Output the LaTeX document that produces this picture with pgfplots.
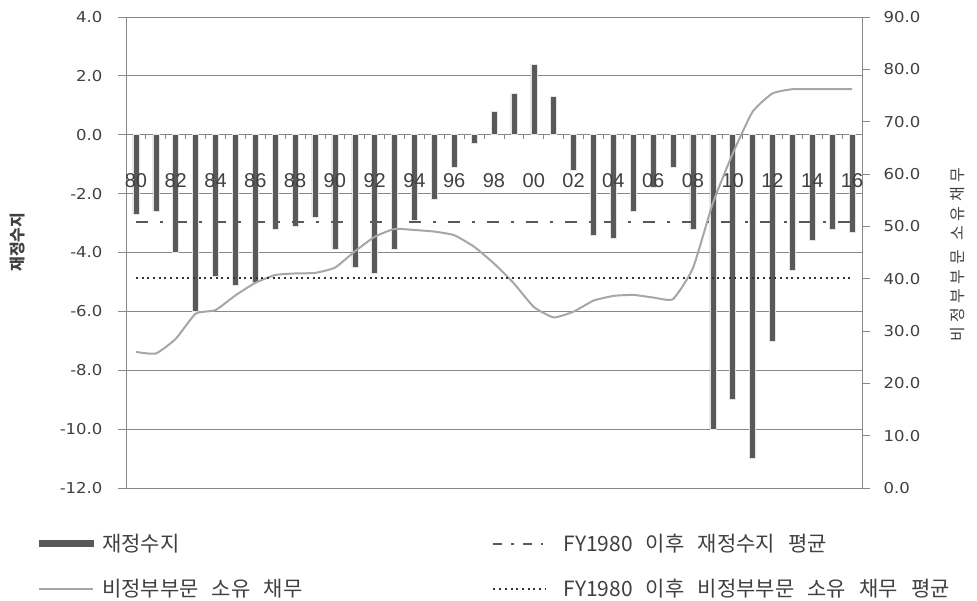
\documentclass[border=0pt]{standalone}
\usepackage{pgfplots}
\pgfplotsset{compat=1.18}
\usepackage{pgfplotstable}
\usepackage{fontspec}
\setmainfont{DejaVu Sans}
\newfontfamily\numfont{DejaVu Sans}[FakeStretch=1.1]
\newfontfamily\xfont{Liberation Sans}
\newfontfamily\kr{Noto Sans CJK KR}[WordSpace=2.8]
\definecolor{barc}{HTML}{595959}
\definecolor{linec}{HTML}{A6A6A6}
\definecolor{gridc}{HTML}{888888}
\definecolor{txtc}{HTML}{404040}
\newcommand\ls{\hspace{4.5pt}}
\pgfplotsset{
  legline/.style={legend image code/.code={\draw[##1] (0pt,0pt) -- (#1,0pt);}},
  legbar/.style={legend image code/.code={\fill[barc] (0pt,-3pt) rectangle (54pt,3pt);}},
}

% fiscal balance (% of GDP), FY1980 = 0 ... FY2016 = 36
\pgfplotstableread{
x y
0 -2.7
1 -2.6
2 -4.0
3 -6.0
4 -4.8
5 -5.1
6 -5.0
7 -3.2
8 -3.1
9 -2.8
10 -3.9
11 -4.5
12 -4.7
13 -3.9
14 -2.9
15 -2.2
16 -1.1
17 -0.3
18 0.8
19 1.4
20 2.4
21 1.3
22 -1.2
23 -3.4
24 -3.5
25 -2.6
26 -1.8
27 -1.1
28 -3.2
29 -10.0
30 -9.0
31 -11.0
32 -7.0
33 -4.6
34 -3.6
35 -3.2
36 -3.3
}\deficit

% debt held by the public (% of GDP)
\pgfplotstableread{
x y
0 26.0
1 25.7
2 28.5
3 33.3
4 34.0
5 36.8
6 39.2
7 40.7
8 41.0
9 41.1
10 42.1
11 45.2
12 48.0
13 49.5
14 49.3
15 49.0
16 48.3
17 46.1
18 42.9
19 39.1
20 34.6
21 32.6
22 33.7
23 35.8
24 36.7
25 36.9
26 36.4
27 36.1
28 42.0
29 54.4
30 63.9
31 71.9
32 75.4
33 76.2
34 76.2
35 76.2
36 76.2
}\debt

\begin{document}
\begin{tikzpicture}
\path[use as bounding box] (-126pt,-112pt) rectangle (851pt,488pt);
\begin{axis}[
  scale only axis, width=736pt, height=471pt,
  xmin=-0.5, xmax=36.5, ymin=-12, ymax=4,
  axis y line*=left, axis x line*=middle,
  every inner x axis line/.append style={-},
  axis line style={gridc, line width=0.8pt},
  tick align=outside,
  major tick length=8pt, minor tick length=4pt,
  tick style={gridc, line width=0.8pt},
  ytick={-12,-10,...,4},
  ymajorgrids, grid style={gridc, line width=0.8pt},
  /pgf/number format/assume math mode=true,
  yticklabel style={font=\numfont\fontsize{15}{18}\selectfont, text=txtc, xshift=-12pt,
    /pgf/number format/fixed, /pgf/number format/fixed zerofill,
    /pgf/number format/precision=1},
  xtick={0,2,...,36},
  xticklabels={},
  xtick style={/pgfplots/major tick length=0pt, /pgfplots/minor tick length=4pt},
  minor xtick={-0.5,0.5,...,36.5},
  ylabel={\bfseries 재정수지},
  every axis y label/.style={at={(axis description cs:-0.147,0.522)}, rotate=90, anchor=center,
    font=\kr\fontsize{16}{18}\selectfont, text=txtc},
]
\addplot[ybar, bar width=6pt, fill=barc, draw=white!80!gray, line width=0.5pt] table[x=x,y=y]{\deficit};
\addplot[barc, line width=2pt, dash pattern=on 12pt off 12pt on 3pt off 12pt] coordinates {(0,-2.95) (36,-2.95)};
\end{axis}
\begin{axis}[
  scale only axis, width=736pt, height=471pt,
  xmin=-0.5, xmax=36.5, ymin=0, ymax=90,
  axis y line*=right, axis x line*=bottom,
  x axis line style={draw=none},
  axis line style={gridc, line width=0.8pt},
  tick align=outside, major tick length=8pt,
  tick style={gridc, line width=0.8pt},
  ytick={0,10,...,90},
  xtick={0,2,...,36},
  xticklabels={80,82,84,86,88,90,92,94,96,98,00,02,04,06,08,10,12,14,16},
  xtick style={draw=none, /pgfplots/major tick length=0pt},
  xticklabel style={font=\xfont\fontsize{20}{24}\selectfont, text=txtc, yshift=326pt},
  /pgf/number format/assume math mode=true,
  yticklabel style={font=\numfont\fontsize{15}{18}\selectfont, text=txtc, xshift=10pt,
    /pgf/number format/fixed, /pgf/number format/fixed zerofill,
    /pgf/number format/precision=1},
  ylabel={비\ls 정\ls 부\ls 부\ls 문\hspace{10pt}소\ls 유\ls 채\ls 무},
  every axis y label/.style={at={(axis description cs:1.13,0.495)}, rotate=90, anchor=center,
    font=\kr\fontsize{16}{18}\selectfont, text=txtc},
  legend columns=2,
  legend cell align=left,
  legend style={at={(axis description cs:0,0)}, anchor=north west, xshift=-88pt, yshift=-46pt,
    draw=none, fill=none, inner sep=0pt, row sep=26pt,
    font=\kr\fontsize{21}{23}\selectfont, text=txtc, nodes={inner sep=0pt},
    /tikz/every odd column/.append style={column sep=8pt},
    /tikz/every even column/.append style={column sep=190pt}},
]
\addlegendimage{legbar}
\addlegendentry{재정수지}
\addlegendimage{barc, line width=2pt, dash pattern=on 9pt off 9pt on 3pt off 9pt, legline=50pt}
\addlegendentry{\hspace{9pt}FY1980 이후 재정수지 평균}
\addplot[linec, line width=2pt, smooth, tension=0.3, legline=54pt] table[x=x,y=y]{\debt};
\addlegendentry{비정부부문 소유 채무}
\addplot[black!80, line width=2pt, dash pattern=on 2pt off 3.7pt, legline=52pt] coordinates {(0,40.1) (36,40.1)};
\addlegendentry{\hspace{9pt}FY1980 이후 비정부부문 소유 채무 평균}
\end{axis}
\end{tikzpicture}
\end{document}
